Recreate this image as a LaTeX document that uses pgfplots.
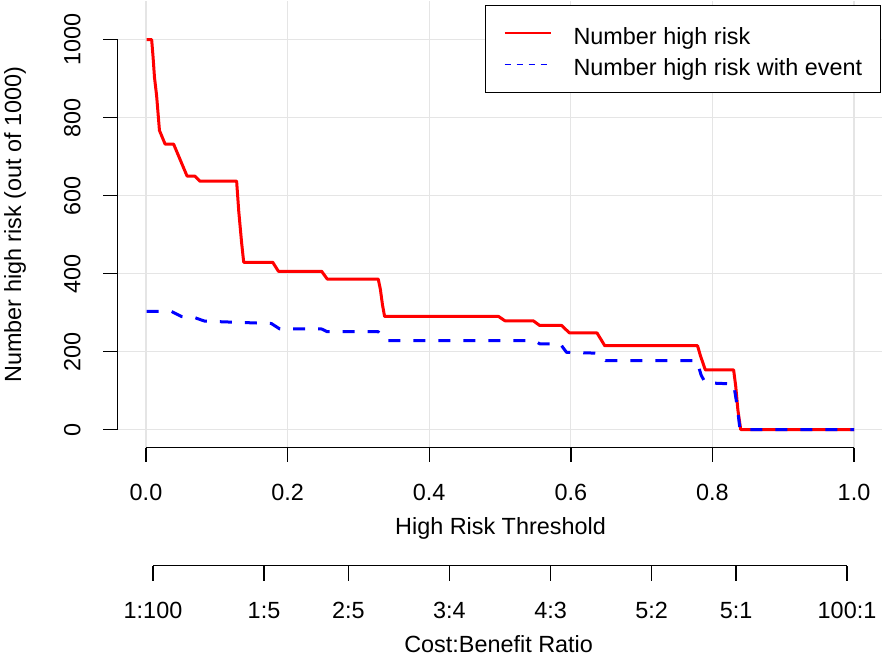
\documentclass[border=0pt]{standalone}
\usepackage{fontspec}
\setmainfont{Liberation Sans}
\usepackage{pgfplots}
\pgfplotsset{compat=1.18}
\begin{document}
\fontsize{11.7bp}{14bp}\selectfont
\begin{tikzpicture}
% ---------- main plotting area (grid, data, legend) ----------
\begin{axis}[
  at={(58.84bp,104bp)}, anchor=south west,
  width=382.32bp, height=223.5bp, scale only axis,
  xmin=-0.04, xmax=1.04, ymin=-46.15, ymax=1100,
  axis line style={draw=none},
  xtick={0,0.2,0.4,0.6,0.8,1}, ytick={0,200,400,600,800,1000},
  xticklabels={}, yticklabels={},
  major tick length=0pt,
  grid=major, grid style={gray!20, line width=0.6bp},
  clip=false,
  legend cell align=left,
  legend image code/.code={\path[draw=none,fill=none] (0bp,-5.5bp) rectangle (23bp,6bp); \draw[#1] (0bp,0bp) -- (23bp,0bp);},
  legend style={at={(rel axis cs:0.9983,0.991)}, anchor=north east,
    draw=black, line width=0.75bp, inner xsep=9bp, inner ysep=6.5bp,
    row sep=0.5bp,
    nodes={inner sep=0pt, text height=12.95bp, text depth=2.05bp},
    /tikz/every odd column/.append style={column sep=11bp}},
]
\addplot[draw=red, line width=1.5bp, line join=round, forget plot] coordinates {
(0.001,1000) (0.008,1000) (0.010,955) (0.012,903) (0.015,856) (0.019,767)
(0.027,732) (0.039,732) (0.058,650) (0.069,650) (0.076,637) (0.128,637)
(0.131,560) (0.135,480) (0.138,429) (0.179,429) (0.187,406) (0.248,406)
(0.256,386) (0.328,386) (0.331,360) (0.334,320) (0.337,290) (0.498,290)
(0.507,279) (0.547,279) (0.556,267) (0.587,267) (0.598,248) (0.637,248)
(0.648,215) (0.779,215) (0.783,190) (0.790,153) (0.830,153) (0.833,110)
(0.836,50) (0.840,0) (1.0,0)
};
\addplot[draw=blue, line width=1.5bp, line join=round, dash pattern=on 6bp off 6.5bp, forget plot] coordinates {
(0.001,303) (0.036,303) (0.050,290) (0.069,287) (0.083,278) (0.177,272)
(0.189,258) (0.248,258) (0.256,251) (0.328,251) (0.339,228) (0.549,228)
(0.556,220) (0.585,220) (0.594,198) (0.637,196) (0.649,177) (0.778,177)
(0.784,140) (0.790,120) (0.830,117) (0.835,60) (0.839,0) (1.0,0)
};
\addlegendimage{draw=red, line width=1bp}
\addlegendentry{Number high risk}
\addlegendimage{draw=blue, line width=0.6bp, dash pattern=on 3bp off 3bp}
\addlegendentry{Number high risk with event}
\end{axis}
% ---------- left axis ----------
\begin{axis}[
  at={(58.84bp,113bp)}, anchor=south west,
  width=10bp, height=195bp, scale only axis,
  xmin=0, xmax=1, ymin=0, ymax=1000,
  axis y line*=left, hide x axis,
  axis line style={-, line width=0.7bp, black},
  ytick={0,200,400,600,800,1000},
  yticklabels={0,200,400,600,800,1000},
  tick align=outside, major tick length=7.25bp,
  tick style={line width=0.7bp, black},
  yticklabel style={rotate=90, anchor=south, inner sep=0pt},
  yticklabel shift=11.1bp,
  ylabel={Number high risk (out of 1000)},
  ylabel style={at={(axis description cs:-5.134,0.526)}, anchor=center, inner sep=0pt},
]
\end{axis}
% ---------- threshold axis ----------
\begin{axis}[
  at={(73bp,104bp)}, anchor=south west,
  width=354bp, height=10bp, scale only axis,
  xmin=0, xmax=1, ymin=0, ymax=1,
  axis x line*=bottom, hide y axis,
  axis line style={-, line width=0.7bp, black},
  xtick={0,0.2,0.4,0.6,0.8,1},
  xticklabels={0.0,0.2,0.4,0.6,0.8,1.0},
  tick align=outside, major tick length=7bp,
  tick style={line width=0.7bp, black},
  xticklabel style={anchor=base, inner sep=0pt},
  xticklabel shift=19.5bp,
  xlabel={High Risk Threshold},
  xlabel style={at={(axis description cs:0.5007,-4.36)}, anchor=base, inner sep=0pt},
]
\end{axis}
% ---------- cost:benefit axis ----------
\begin{axis}[
  at={(76.505bp,45bp)}, anchor=south west,
  width=346.99bp, height=10bp, scale only axis,
  xmin=0.0099, xmax=0.9901, ymin=0, ymax=1,
  axis x line*=bottom, hide y axis,
  axis line style={-, line width=0.7bp, black},
  xtick={0.009901,0.166667,0.285714,0.428571,0.571429,0.714286,0.833333,0.990099},
  xticklabels={1:100,1:5,2:5,3:4,4:3,5:2,5:1,100:1},
  tick align=outside, major tick length=7.5bp,
  tick style={line width=0.7bp, black},
  xticklabel style={anchor=base, inner sep=0pt},
  xticklabel shift=19.15bp,
  xlabel={Cost:Benefit Ratio},
  xlabel style={at={(axis description cs:0.498,-4.333)}, anchor=base, inner sep=0pt},
]
\end{axis}
\path (0,0) rectangle (443bp,327.5bp);
\end{tikzpicture}
\end{document}
